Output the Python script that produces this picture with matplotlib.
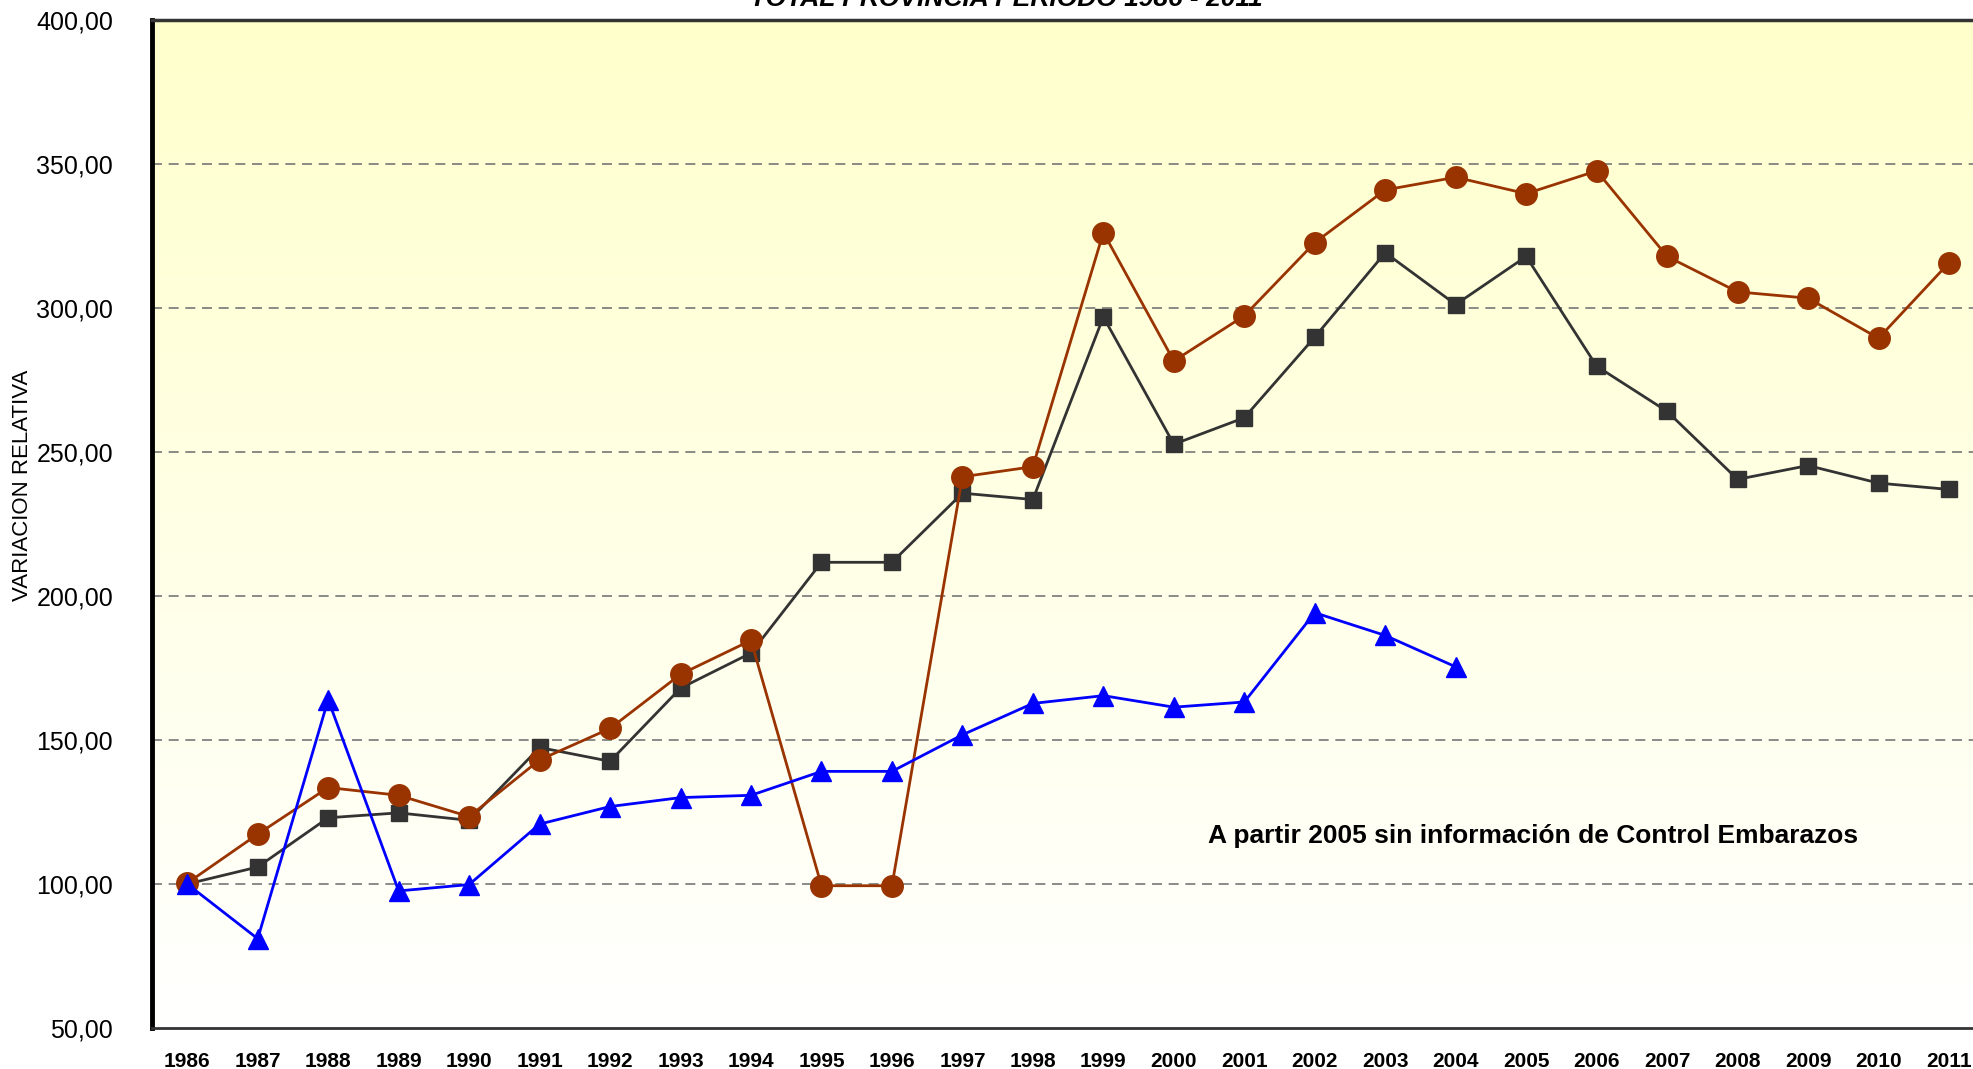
import matplotlib.pyplot as plt
import numpy as np

plt.rcParams['font.family'] = ['Liberation Sans', 'DejaVu Sans']

years = [str(y) for y in range(1986, 2012)]

serie_circulos = [100.3, 117.3, 133.5, 130.8, 123.4, 143.1, 154.0, 172.8, 184.6,
                  99.4, 99.4, 241.4, 244.9, 326.2, 281.6, 297.3, 322.7, 341.0,
                  345.4, 339.7, 347.6, 317.9, 305.6, 303.4, 289.5, 315.7]
serie_cuadrados = [100.0, 105.9, 123.0, 124.7, 122.1, 147.4, 142.6, 168.0, 180.2,
                   211.7, 211.7, 235.7, 233.5, 296.9, 252.7, 261.9, 289.9, 319.2,
                   301.2, 317.9, 279.8, 264.1, 240.5, 245.3, 239.2, 237.0]
serie_triangulos = [100.0, 81.0, 164.0, 97.6, 99.8, 120.8, 126.9, 130.0, 130.8,
                    139.1, 139.1, 151.8, 162.7, 165.4, 161.4, 163.2, 194.2, 186.3,
                    175.4]

yticks = [50, 100, 150, 200, 250, 300, 350, 400]

fig = plt.figure(figsize=(19.73, 10.69), dpi=100)
ax = fig.add_axes([152 / 1973, 1 - 1028 / 1069, 1 - 152 / 1973, (1028 - 20) / 1069])

x = np.arange(len(years))
xmax = 25 + (1973 - 1949) / 70.5
ax.set_xlim(-0.5, xmax)
ax.set_ylim(50, 400)

# background gradient, yellow on top fading to white
grad = np.linspace(0, 1, 256).reshape(-1, 1)
top = np.array([1.0, 1.0, 0.80])
bottom = np.array([1.0, 1.0, 1.0])
img = bottom + (top - bottom) * grad
ax.imshow(img[:, None, :].repeat(2, axis=1), extent=[-0.5, xmax, 50, 400],
          origin='lower', aspect='auto', zorder=0)

for v in yticks[1:-1]:
    ax.axhline(v, color='#777777', lw=1.2, ls=(0, (6, 4)), zorder=1)

ax.plot(x, serie_cuadrados, color='#333333', lw=2, marker='s', ms=11, zorder=3)
ax.plot(x, serie_circulos, color='#993300', lw=2, marker='o', ms=15.5, zorder=4)
ax.plot(x[:len(serie_triangulos)], serie_triangulos, color='#0000ff', lw=2,
        marker='^', ms=14, zorder=5)

ax.set_xticks(x)
ax.set_xticklabels(years, fontsize=15, fontweight='bold')
ax.set_yticks(yticks)
ax.set_yticklabels([f"{v:.2f}".replace('.', ',') for v in yticks], fontsize=18)
ax.tick_params(axis='both', length=0)
ax.tick_params(axis='y', pad=28)
ax.tick_params(axis='x', pad=17)

ax.spines['left'].set_linewidth(3.5)
ax.spines['left'].set_color('black')
ax.spines['bottom'].set_linewidth(2)
ax.spines['bottom'].set_color('#333333')
ax.spines['top'].set_linewidth(2.5)
ax.spines['top'].set_color('#333333')
ax.spines['right'].set_visible(False)

fig.text(23 / 1973, 1 - 485 / 1069, 'VARIACION RELATIVA', rotation=90,
         fontsize=16, ha='center', va='center')
ax.text(19.1, 116.8, 'A partir 2005 sin información de Control Embarazos',
        fontsize=19, fontweight='bold', ha='center', va='center', zorder=6)
fig.text(1006 / 1973, 1 - 6 / 1069, 'TOTAL PROVINCIA PERIODO 1986 - 2011',
         fontsize=19, fontweight='bold', fontstyle='italic', ha='center', va='baseline')

fig.savefig('out.png', dpi=100)
